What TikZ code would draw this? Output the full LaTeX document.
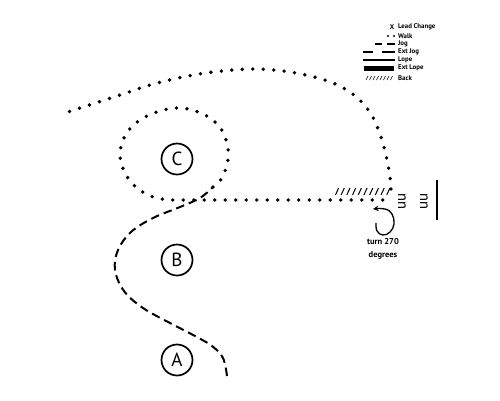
\documentclass[tikz,border=0pt]{standalone}
\usepackage{fontspec}
\setmainfont{PT Sans}
\usetikzlibrary{arrows.meta}
\begin{document}
\begin{tikzpicture}[x=1pt,y=-1pt,
  walkline/.style={line width=3.8pt,line cap=round,dash pattern=on 0pt off 10.5pt},
  jogline/.style={line width=2pt,dash pattern=on 8.5pt off 5pt},
  marker/.style={circle,draw,line width=1.7pt,minimum size=31pt,inner sep=0pt,font=\fontsize{19}{19}\selectfont},
  legtext/.style={anchor=west,inner sep=0pt,font=\bfseries\fontsize{6.8}{7}\selectfont},
  hatch/.style={line width=1pt}]
\useasboundingbox (0,0) rectangle (500,400);
% markers
\node[marker] (A) at (177,360) {A};
\node[marker] (B) at (177,260) {B};
\node[marker] (C) at (177,159) {C};
% jog from A
\draw[jogline] plot[smooth,tension=0.6] coordinates {(227,376) (223,358) (212,346) (195,336) (170,323) (143,308) (124,291) (115,270) (118,250) (131,232) (153,218) (180,207) (200,198) (213,187)};
% walk circle around C and line to the back
\draw[walkline] plot[smooth,tension=0.6] coordinates {(213,187) (222,178) (228,160) (227,143) (219,126) (203,114) (181,108) (160,111) (140,120) (126,134) (120,154) (125,173) (137,188) (153,197) (170,200)} -- (388,200);
% back hatches
\foreach \x in {337,342.7,...,390} \draw[hatch] (\x-1.6,195) -- (\x+1.6,188);
% big walk loop
\draw[walkline] plot[smooth,tension=0.55] coordinates {(391,189) (389,170) (382,140) (371,114) (354,95) (328,81) (290,72) (253,69) (213,72) (183,77) (150,85) (120,95) (83,107) (62,114)};
% lead changes
\node[inner sep=0pt,rotate=90,font=\fontsize{15}{15}\selectfont] (lc1) at (402,201) {uu};
\node[inner sep=0pt,rotate=90,font=\fontsize{15}{15}\selectfont] (lc2) at (424,201) {uu};
\draw[line width=2pt] (437,180) -- (437,220);
% turn
\draw[line width=1.3pt,-{Stealth[length=5.5pt,width=5.5pt]}] plot[smooth,tension=0.7] coordinates {(376,223) (377,231) (383,235) (390,232) (394,224) (392,214) (385,209) (373,209)};
\node[font=\bfseries\fontsize{8.5}{12.5}\selectfont,align=center] (turn) at (383,249) {turn 270\\degrees};
% legend
\node[inner sep=0pt,font=\bfseries\fontsize{6.8}{7}\selectfont] (lx) at (392,27) {X};
\node[legtext] (l1) at (398,27) {Lead Change};
\node[legtext] (l2) at (398,36) {Walk};
\node[legtext] (l3) at (398,44) {Jog};
\node[legtext] (l4) at (398,52) {Ext Jog};
\node[legtext] (l5) at (398,60) {Lope};
\node[legtext] (l6) at (398,68) {Ext Lope};
\node[legtext] (l7) at (398,78) {Back};
\fill (388,36) circle (1.2pt) (394,36) circle (1.2pt);
\draw[line width=1.3pt] (375,44) -- (382,44) (387,44) -- (395,44);
\draw[line width=2.2pt] (363,52) -- (373,52) (382,52) -- (395,52);
\draw[line width=2pt] (363,60) -- (395,60);
\draw[line width=5pt] (364,68) -- (394,68);
\foreach \x in {367,370.5,...,393} \draw[line width=0.6pt] (\x-1,80) -- (\x+1,76);
\end{tikzpicture}
\end{document}
